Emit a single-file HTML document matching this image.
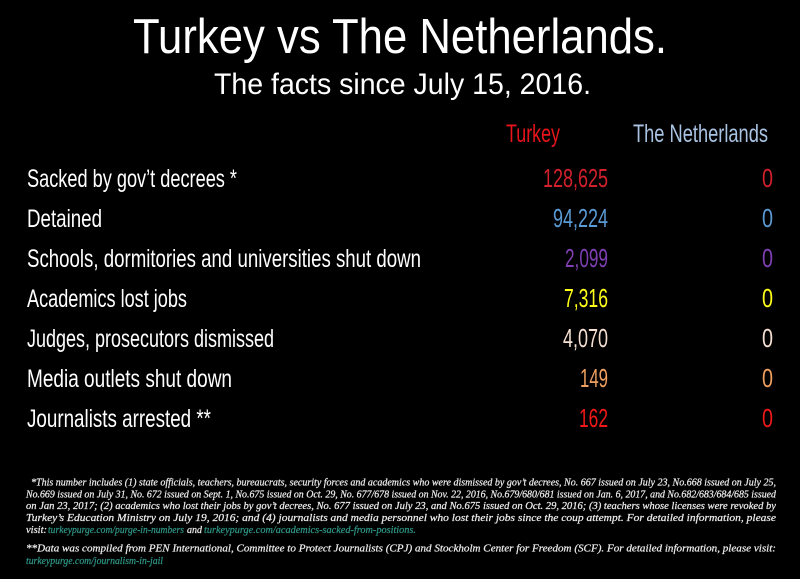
<!DOCTYPE html>
<html>
<head>
<meta charset="utf-8">
<style>
html,body{margin:0;padding:0;background:#000;}
body{width:800px;height:579px;overflow:hidden;}
svg{display:block;}
.t{font-family:"Liberation Sans",Arial,sans-serif;fill:#fff;}
.c{font-family:"Liberation Sans Narrow","Liberation Sans",Arial,sans-serif;}
.f{font-family:"Liberation Serif","Times New Roman",serif;font-style:italic;fill:#ececec;font-size:11px;stroke:#ececec;stroke-width:0.25;}
.l{fill:#2f9585;stroke:#2f9585;}
</style>
</head>
<body>
<svg width="800" height="579" viewBox="0 0 800 579" xmlns="http://www.w3.org/2000/svg">
<rect width="800" height="579" fill="#000"/>

<text class="t" x="133" y="53" font-size="49" textLength="534" lengthAdjust="spacingAndGlyphs">Turkey vs The Netherlands.</text>
<text class="t" x="214" y="94" font-size="30" textLength="377" lengthAdjust="spacingAndGlyphs">The facts since July 15, 2016.</text>

<text class="c" x="506" y="142" font-size="25" fill="#e8141c" textLength="54" lengthAdjust="spacingAndGlyphs">Turkey</text>
<text class="c" x="633" y="142" font-size="25" fill="#a9c3e3" textLength="135" lengthAdjust="spacingAndGlyphs">The Netherlands</text>

<g class="c" font-size="25" fill="#fff">
<text x="27" y="187" textLength="210" lengthAdjust="spacingAndGlyphs">Sacked by gov’t decrees *</text>
<text x="27" y="227" textLength="75" lengthAdjust="spacingAndGlyphs">Detained</text>
<text x="27" y="267" textLength="394" lengthAdjust="spacingAndGlyphs">Schools, dormitories and universities shut down</text>
<text x="27" y="307" textLength="160" lengthAdjust="spacingAndGlyphs">Academics lost jobs</text>
<text x="27" y="347" textLength="247" lengthAdjust="spacingAndGlyphs">Judges, prosecutors dismissed</text>
<text x="27" y="387" textLength="205" lengthAdjust="spacingAndGlyphs">Media outlets shut down</text>
<text x="27" y="427" textLength="184" lengthAdjust="spacingAndGlyphs">Journalists arrested **</text>
</g>

<g class="c" font-size="26" text-anchor="end">
<text x="608" y="187" fill="#d2202c" textLength="65" lengthAdjust="spacingAndGlyphs">128,625</text>
<text x="608" y="227" fill="#5b9bd5" textLength="55" lengthAdjust="spacingAndGlyphs">94,224</text>
<text x="608" y="267" fill="#8040b4" textLength="43" lengthAdjust="spacingAndGlyphs">2,099</text>
<text x="608" y="307" fill="#ffff1a" textLength="44" lengthAdjust="spacingAndGlyphs">7,316</text>
<text x="608" y="347" fill="#f6e0d2" textLength="45" lengthAdjust="spacingAndGlyphs">4,070</text>
<text x="608" y="387" fill="#f0a060" textLength="28" lengthAdjust="spacingAndGlyphs">149</text>
<text x="608" y="427" fill="#f01818" textLength="29" lengthAdjust="spacingAndGlyphs">162</text>

<text x="773" y="187" fill="#d2202c" textLength="11" lengthAdjust="spacingAndGlyphs">0</text>
<text x="773" y="227" fill="#5b9bd5" textLength="11" lengthAdjust="spacingAndGlyphs">0</text>
<text x="773" y="267" fill="#8040b4" textLength="11" lengthAdjust="spacingAndGlyphs">0</text>
<text x="773" y="307" fill="#ffff1a" textLength="11" lengthAdjust="spacingAndGlyphs">0</text>
<text x="773" y="347" fill="#f6e0d2" textLength="11" lengthAdjust="spacingAndGlyphs">0</text>
<text x="773" y="387" fill="#f0a060" textLength="11" lengthAdjust="spacingAndGlyphs">0</text>
<text x="773" y="427" fill="#f01818" textLength="11" lengthAdjust="spacingAndGlyphs">0</text>
</g>

<text class="f" x="31" y="485.5" textLength="745" lengthAdjust="spacingAndGlyphs">*This number includes (1) state officials, teachers, bureaucrats, security forces and academics who were dismissed by gov’t decrees, No. 667 issued on July 23, No.668 issued on July 25,</text>
<text class="f" x="26" y="497.3" textLength="750" lengthAdjust="spacingAndGlyphs">No.669 issued on July 31, No. 672 issued on Sept. 1, No.675 issued on Oct. 29, No. 677/678 issued on Nov. 22, 2016, No.679/680/681 issued on Jan. 6, 2017, and No.682/683/684/685 issued</text>
<text class="f" x="26" y="509" textLength="750" lengthAdjust="spacingAndGlyphs">on Jan 23, 2017; (2) academics who lost their jobs by gov’t decrees, No. 677 issued on July 23, and No.675 issued on Oct. 29, 2016; (3) teachers whose licenses were revoked by</text>
<text class="f" x="26" y="520.8" textLength="750" lengthAdjust="spacingAndGlyphs">Turkey’s Education Ministry on July 19, 2016; and (4) journalists and media personnel who lost their jobs since the coup attempt. For detailed information, please</text>
<text class="f" x="26" y="532.8" textLength="21" lengthAdjust="spacingAndGlyphs">visit:</text>
<text class="f l" x="48" y="532.8" textLength="136" lengthAdjust="spacingAndGlyphs">turkeypurge.com/purge-in-numbers</text>
<text class="f" x="187" y="532.8" textLength="15" lengthAdjust="spacingAndGlyphs">and</text>
<text class="f l" x="204" y="532.8" textLength="212" lengthAdjust="spacingAndGlyphs">turkeypurge.com/academics-sacked-from-positions.</text>
<text class="f" x="26" y="551.7" textLength="750" lengthAdjust="spacingAndGlyphs">**Data was compiled from PEN International, Committee to Protect Journalists (CPJ) and Stockholm Center for Freedom (SCF). For detailed information, please visit:</text>
<text class="f l" x="26" y="563.8" textLength="137" lengthAdjust="spacingAndGlyphs">turkeypurge.com/journalism-in-jail</text>
</svg>
</body>
</html>
